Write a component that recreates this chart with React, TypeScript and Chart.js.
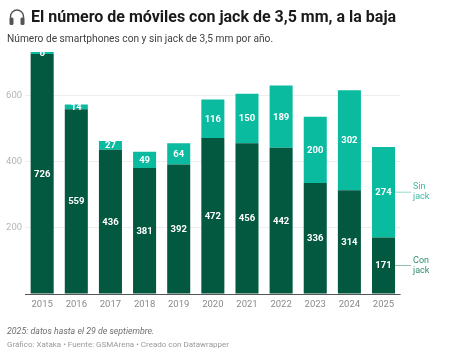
import React, { useEffect, useRef } from "react";
import { Chart, registerables } from "chart.js";

Chart.register(...registerables);

const years = ["2015","2016","2017","2018","2019","2020","2021","2022","2023","2024","2025"];
const conJack = [726,559,436,381,392,472,456,442,336,314,171];
const sinJack = [6,14,27,49,64,116,150,189,200,302,274];
const yTicks = [200,400,600];
const DARK = "#03593f";
const LIGHT = "#0bbba0";
const FONT = "Roboto, sans-serif";

const barLabels = {
  id: "barLabels",
  afterDatasetsDraw(chart: any) {
    const { ctx } = chart;
    ctx.save();
    ctx.textAlign = "center";
    ctx.textBaseline = "middle";
    ctx.font = `700 9.5px ${FONT}`;
    chart.data.datasets.forEach((ds: any, i: number) => {
      chart.getDatasetMeta(i).data.forEach((bar: any, j: number) => {
        const cy = (bar.y + bar.base) / 2;
        ctx.fillStyle = "#ffffff";
        ctx.fillText(String(ds.data[j]), bar.x, cy + 0.5);
      });
    });
    ctx.restore();
  },
};

const seriesLabels = {
  id: "seriesLabels",
  afterDatasetsDraw(chart: any) {
    const { ctx } = chart;
    const names = [["Con", "jack"], ["Sin", "jack"]];
    const lineColors = ["#8fbfae", "#8fdccd"];
    const textColors = ["#2f8c70", "#3cb9a2"];
    ctx.save();
    ctx.font = `400 9px ${FONT}`;
    ctx.textAlign = "left";
    ctx.textBaseline = "middle";
    chart.data.datasets.forEach((_: any, i: number) => {
      const meta = chart.getDatasetMeta(i).data;
      const bar = meta[meta.length - 1];
      const cy = (bar.y + bar.base) / 2;
      const x0 = bar.x + bar.width / 2;
      ctx.strokeStyle = lineColors[i];
      ctx.lineWidth = 1;
      ctx.beginPath();
      ctx.moveTo(x0, cy);
      ctx.lineTo(x0 + 16, cy);
      ctx.stroke();
      ctx.fillStyle = textColors[i];
      ctx.fillText(names[i][0], x0 + 18, cy - 5);
      ctx.fillText(names[i][1], x0 + 18, cy + 5);
    });
    ctx.restore();
  },
};

const abs = (left: number, top: number, extra: React.CSSProperties): React.CSSProperties => ({
  position: "absolute", left, top, fontFamily: FONT, whiteSpace: "nowrap", ...extra,
});

export default function App() {
  const ref = useRef<HTMLCanvasElement>(null);
  useEffect(() => {
    document.body.style.margin = "0";
    const chart = new Chart(ref.current!, {
      type: "bar",
      data: {
        labels: years,
        datasets: [
          { label: "Con jack", data: conJack, backgroundColor: DARK, stack: "s", categoryPercentage: 1, barPercentage: 0.675 },
          { label: "Sin jack", data: sinJack, backgroundColor: LIGHT, stack: "s", categoryPercentage: 1, barPercentage: 0.675 },
        ],
      },
      options: {
        animation: false,
        responsive: false,
        layout: { padding: { top: 52, right: 49.4, bottom: 0, left: 0 } },
        plugins: { legend: { display: false }, tooltip: { enabled: false } },
        scales: {
          x: {
            stacked: true,
            grid: { display: false, drawTicks: false },
            border: { display: false },
            ticks: { color: "#8a8a8a", font: { family: FONT, size: 9.5 }, padding: 5, maxRotation: 0, autoSkip: false },
            afterFit(s: any) { s.height = 62; },
          },
          y: {
            stacked: true,
            min: 0,
            max: 732,
            afterBuildTicks(s: any) { s.ticks = [0, ...yTicks].map((value) => ({ value })); },
            grid: {
              drawTicks: false,
              color: (c: any) => (c.tick.value === 0 ? "#555555" : "#eeeeee"),
              lineWidth: 1,
            },
            border: { display: false },
            ticks: {
              color: "#b5b5b5",
              font: { family: FONT, size: 9.5 },
              padding: 3,
              callback: (v: any) => (v === 0 ? "" : String(v)),
            },
            afterFit(s: any) { s.width = 25.1; },
          },
        },
      },
      plugins: [barLabels, seriesLabels],
    } as any);
    return () => chart.destroy();
  }, []);

  return (
    <div style={{ position: "relative", width: 450, height: 356, background: "#fff", overflow: "hidden" }}>
      <canvas ref={ref} width={450} height={356} style={{ position: "absolute", left: 0, top: 0, display: "block" }} />
      <svg style={{ position: "absolute", left: 8, top: 8 }} width="18" height="18" viewBox="0 0 18 18">
        <path d="M2.5 11 V8.5 a6.5 6.5 0 0 1 13 0 V11" fill="none" stroke="#555" strokeWidth="1.4" />
        <rect x="1.5" y="9.5" width="4" height="7.5" rx="1.5" fill="#555" />
        <rect x="12.5" y="9.5" width="4" height="7.5" rx="1.5" fill="#555" />
      </svg>
      <div style={abs(31, 5.5, { fontSize: 16, fontWeight: 700, color: "#1a1a1a", lineHeight: "22px" })}>El número de móviles con jack de 3,5 mm, a la baja</div>
      <div style={abs(7, 31, { fontSize: 10.2, color: "#3f3f3f", lineHeight: "16px" })}>Número de smartphones con y sin jack de 3,5 mm por año.</div>
      <div style={abs(7, 324, { fontSize: 8.8, fontStyle: "italic", color: "#6f6f6f", lineHeight: "14px" })}>2025: datos hasta el 29 de septiembre.</div>
      <div style={abs(7, 337.5, { fontSize: 8, color: "#9a9a9a", lineHeight: "13px" })}>Gráfico: Xataka • Fuente: GSMArena • Creado con Datawrapper</div>
    </div>
  );
}
